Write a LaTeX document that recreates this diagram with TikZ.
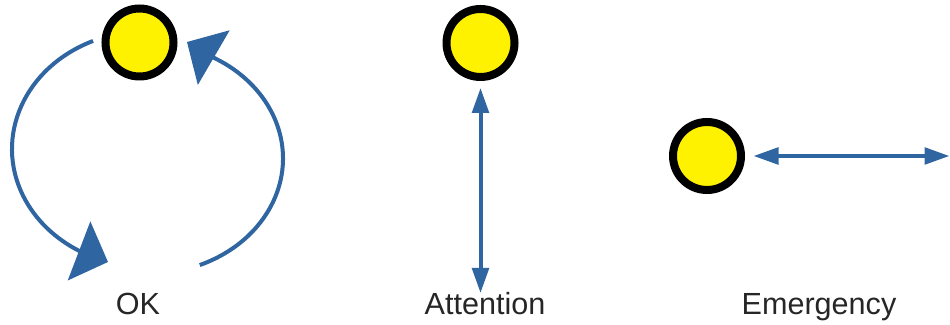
\documentclass[tikz,border=0pt]{standalone}
\usepackage{fontspec}
\setmainfont{Liberation Sans}
\usepackage{xcolor}
\usepackage{tikz}
\usetikzlibrary{arrows.meta, positioning, calc}

\definecolor{arrowblue}{RGB}{47,101,160}

\begin{document}
\begin{tikzpicture}[scale=1.0,
    lamp/.style={circle, draw=black, fill=yellow, line width=0.16cm,
      minimum size=1.36cm, inner sep=0pt},
    loop/.style={arrowblue, line width=0.08cm,
      -{Triangle[length=0.62cm, width=1.25cm]}},
    twoway/.style={arrowblue, line width=0.08cm,
      {Triangle[length=0.5cm, width=0.33cm]}-{Triangle[length=0.5cm, width=0.33cm]}},
    caption/.style={anchor=base, font=\fontsize{17.4}{20}\selectfont, text=black!85}]
  \useasboundingbox (0,0) rectangle (19,6.5);

  % Lamps
  \node[lamp] (oklamp) at (2.79,5.65) {};
  \node[lamp] (attlamp) at (9.61,5.64) {};
  \node[lamp] (emlamp) at (14.14,3.38) {};

  % Captions
  \node[caption] (oktext) at (2.76,0.2) {OK};
  \node[caption] (atttext) at (9.70,0.2) {Attention};
  \node[caption] (emtext) at (16.38,0.2) {Emergency};

  % OK : two arcs going round
  \coordinate (leftloop) at (2.95,3.52);
  \coordinate (lefttip) at (2.16,1.26);
  \draw[loop] (leftloop) ++(113.7:2.71 and 2.36)
    arc[start angle=113.7, end angle=240, x radius=2.71, y radius=2.36] -- (lefttip);
  \coordinate (rightloop) at (2.95,3.33);
  \coordinate (righttip) at (3.74,5.66);
  \draw[loop] (rightloop) ++(-67.3:2.71 and 2.31)
    arc[start angle=-67.3, end angle=60, x radius=2.71, y radius=2.31] -- (righttip);

  % Attention : up and down
  \coordinate (attend) at (9.61,0.64);
  \draw[twoway, shorten <=0.14cm] (attlamp.south) -- (attend);

  % Emergency : left and right
  \coordinate (emend) at (18.99,3.38);
  \draw[twoway, shorten <=0.17cm] (emlamp.east) -- (emend);
\end{tikzpicture}
\end{document}
